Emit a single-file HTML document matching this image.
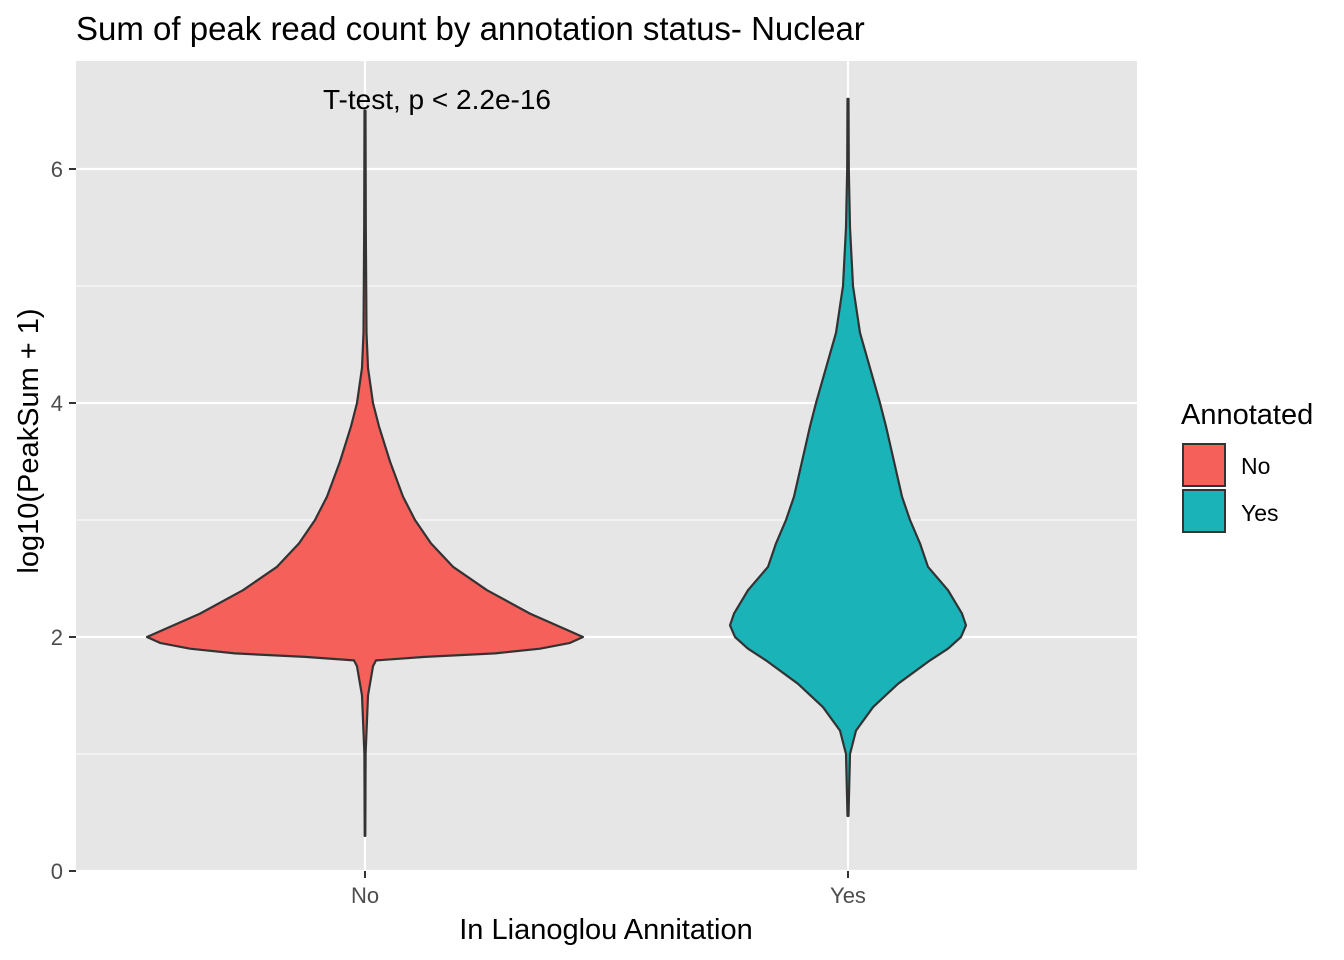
<!DOCTYPE html>
<html><head><meta charset="utf-8"><style>
html,body{margin:0;padding:0;background:#fff;}
svg{display:block;font-family:"Liberation Sans",Arial,sans-serif;}
</style></head><body>
<svg id="chart" width="1344" height="960" viewBox="0 0 1344 960">
<text x="76" y="40" font-size="33" fill="#000">Sum of peak read count by annotation status- Nuclear</text>
<rect x="76" y="61" width="1061" height="810" fill="#e6e6e6"/>
<g id="grid"></g>
<g id="violins"></g>
<g id="axes"></g>
<text x="437" y="109" font-size="28" text-anchor="middle" fill="#000">T-test, p &lt; 2.2e-16</text>
<text transform="translate(38,441) rotate(-90)" font-size="29" text-anchor="middle" fill="#000">log10(PeakSum + 1)</text>
<text x="606" y="939" font-size="29" text-anchor="middle" fill="#000">In Lianoglou Annitation</text>
<g>
<text x="1181" y="424" font-size="29" fill="#000">Annotated</text>
<rect x="1183" y="444" width="42" height="42" fill="#f5605a" stroke="#333" stroke-width="2"/>
<text x="1241" y="474" font-size="23" fill="#000">No</text>
<rect x="1183" y="490" width="42" height="42" fill="#1ab3b8" stroke="#333" stroke-width="2"/>
<text x="1241" y="521" font-size="23" fill="#000">Yes</text>
</g>
</svg>
<script>
const categories = ["No", "Yes"];
const colors = ["#f5605a", "#1ab3b8"];
const yTicks = [0, 2, 4, 6];
const yMinor = [1, 3, 5];
const noLevels = [0.3, 1.0, 1.5, 1.75, 1.8, 1.83, 1.86, 1.9, 1.95, 2.0, 2.05, 2.2, 2.4, 2.6, 2.8, 3.0, 3.2, 3.5, 3.8, 4.0, 4.3, 4.6, 5.5, 6.5];
const noWidths = [0.3, 0.6, 3, 8, 11, 60, 130, 175, 205, 218, 205, 165, 122, 88, 66, 50, 38, 25, 14, 8, 3, 1.5, 0.8, 0.5];
const yesLevels = [0.47, 1.0, 1.2, 1.4, 1.6, 1.8, 1.9, 2.0, 2.1, 2.2, 2.4, 2.6, 2.8, 3.0, 3.2, 3.5, 3.8, 4.0, 4.3, 4.6, 5.0, 5.5, 6.0, 6.6];
const yesWidths = [0.5, 2, 8, 25, 50, 82, 100, 113, 118, 114, 100, 80, 72, 62, 54, 46, 38, 32, 22, 12, 5, 2, 0.8, 0.5];
const levels = [noLevels, yesLevels];
const widths = [noWidths, yesWidths];

const NS = "http://www.w3.org/2000/svg";
const y = v => 871 - 117 * v;
const x = i => 365 + 483 * i;
const maxW = Math.max(...noWidths, ...yesWidths);
const wScale = w => w / maxW * 218;
function mk(tag, attrs, parent){const e=document.createElementNS(NS,tag);for(const k in attrs)e.setAttribute(k,attrs[k]);parent.appendChild(e);return e;}
const grid = document.getElementById("grid"), vg = document.getElementById("violins"), ax = document.getElementById("axes");
yMinor.forEach(v=>{
  const l = mk("line",{x1:76,x2:1137,y1:y(v),y2:y(v),stroke:"#fff","stroke-width":1.1},grid);
  
  
});
yTicks.forEach(v=>{
  const l = mk("line",{x1:76,x2:1137,y1:y(v),y2:y(v),stroke:"#fff","stroke-width":2.2},grid);
  
  
  const t = mk("line",{x1:69,x2:76,y1:y(v),y2:y(v),stroke:"#333","stroke-width":2},ax);
  
  
  const tx = mk("text",{x:63,y:y(v)+8,"font-size":22,"text-anchor":"end",fill:"#4d4d4d"},ax);
  tx.textContent = v;
  
  
});
categories.forEach((c,i)=>{
  const l = mk("line",{x1:x(i),x2:x(i),y1:61,y2:871,stroke:"#fff","stroke-width":2.2},grid);
  
  
  const t = mk("line",{x1:x(i),x2:x(i),y1:871,y2:878,stroke:"#333","stroke-width":2},ax);
  
  
  const tx = mk("text",{x:x(i),y:903,"font-size":22,"text-anchor":"middle",fill:"#4d4d4d"},ax);
  tx.textContent = c;
  
  
  const L = levels[i], W = widths[i];
  let pts = [];
  for(let k=0;k<L.length;k++) pts.push([x(i)+wScale(W[k]), y(L[k])]);
  for(let k=L.length-1;k>=0;k--) pts.push([x(i)-wScale(W[k]), y(L[k])]);
  const p = mk("path",{d:"M"+pts.map(p=>p[0].toFixed(1)+","+p[1].toFixed(1)).join("L")+"Z",fill:colors[i],stroke:"#333","stroke-width":2.2,"stroke-linejoin":"round"},vg);
  
  
});
</script>
</body></html>
